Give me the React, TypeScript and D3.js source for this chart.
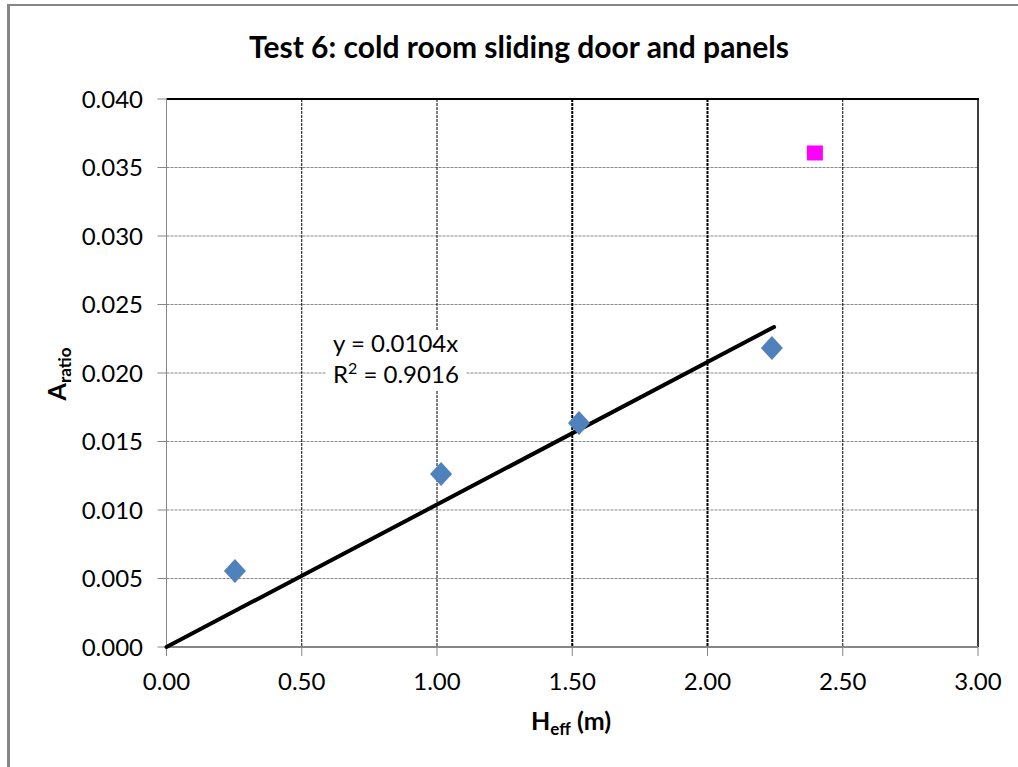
import React from "react";
import * as d3 from "d3";

const xValues = [0.253, 1.015, 1.525, 2.238];
const yValues = [0.00555, 0.01263, 0.01635, 0.02182];
const outlierX = [2.397];
const outlierY = [0.03606];
const slope = 0.0104;
const trendEndX = 2.246;
const xTicks = [0, 0.5, 1.0, 1.5, 2.0, 2.5, 3.0];
const yTicks = [0, 0.005, 0.01, 0.015, 0.02, 0.025, 0.03, 0.035, 0.04];
const boldVertical = [1.5, 2.0];

const W = 1018;
const H = 767;
const L = 166.5, R = 978, T = 99, B = 647;
const FONT = "Lato, 'Open Sans', sans-serif";

export default function App() {
  const x = d3.scaleLinear().domain([0, 3]).range([L, R]);
  const y = d3.scaleLinear().domain([0, 0.04]).range([B, T]);
  const trend = d3.line<number>().x((d) => x(d)).y((d) => y(slope * d));
  const diamond = "M0,-12L11,0L0,12L-11,0Z";

  return (
    <svg width={W} height={H} style={{ position: "absolute", left: 0, top: 0, background: "#fff" }} fontFamily={FONT}>
      <rect x={0} y={0} width={W} height={H} fill="#fff" />
      {/* outer border */}
      <line x1={8.5} y1={4} x2={8.5} y2={H} stroke="#868686" strokeWidth={3} />
      <line x1={7} y1={5} x2={W} y2={5} stroke="#868686" strokeWidth={2} />

      <text x={519} y={58} textAnchor="middle" fontSize={30} fontWeight="bold" fill="#000">
        Test 6: cold room sliding door and panels
      </text>

      {/* horizontal grid */}
      {yTicks.filter((t) => t > 0 && t < 0.04).map((t) => (
        <line key={"h" + t} x1={L} x2={R} y1={y(t)} y2={y(t)} stroke="#8a8a8a" strokeWidth={1} strokeDasharray="3,1" />
      ))}
      {/* vertical grid */}
      {xTicks.filter((t) => t > 0 && t < 3).map((t) => (
        <line key={"v" + t} x1={x(t)} x2={x(t)} y1={T} y2={B} stroke="#000"
          strokeWidth={boldVertical.includes(t) ? 2 : 1} strokeDasharray="3,1" />
      ))}

      {/* plot frame: top & right black */}
      <line x1={L} x2={R + 1} y1={T} y2={T} stroke="#000" strokeWidth={2} />
      <line x1={R} x2={R} y1={T} y2={B} stroke="#000" strokeWidth={1.5} />

      {/* axes */}
      <line x1={L} x2={L} y1={T} y2={B} stroke="#868686" strokeWidth={1} />
      <line x1={L} x2={R} y1={B} y2={B} stroke="#868686" strokeWidth={2} />
      {yTicks.map((t) => (
        <g key={"yt" + t}>
          <line x1={L - 9} x2={L} y1={y(t)} y2={y(t)} stroke="#868686" strokeWidth={1} />
          <text x={143} y={y(t)} dy="0.36em" textAnchor="end" fontSize={24} fill="#000">
            {d3.format(".3f")(t)}
          </text>
        </g>
      ))}
      {xTicks.map((t) => (
        <g key={"xt" + t}>
          <line x1={x(t)} x2={x(t)} y1={B} y2={B + 9} stroke="#868686" strokeWidth={1} />
          <text x={x(t)} y={690} textAnchor="middle" fontSize={24} fill="#000">
            {d3.format(".2f")(t)}
          </text>
        </g>
      ))}

      {/* axis titles */}
      <text x={531} y={730} fontSize={25} fontWeight="bold" fill="#000">
        H<tspan fontSize={17} dy={5}>eff</tspan><tspan dy={-5}> (m)</tspan>
      </text>
      <text transform="translate(66,374) rotate(-90)" textAnchor="middle" fontSize={25} fontWeight="bold" fill="#000">
        A<tspan fontSize={17} dy={5}>ratio</tspan>
      </text>

      {/* trendline */}
      <path d={trend([0, trendEndX]) || ""} fill="none" stroke="#000" strokeWidth={4} strokeLinecap="round" />

      {/* points */}
      {xValues.map((v, i) => (
        <path key={"p" + i} d={diamond} transform={`translate(${x(v)},${y(yValues[i])})`} fill="#4F81BD" />
      ))}
      {outlierX.map((v, i) => (
        <rect key={"o" + i} x={x(v) - 8} y={y(outlierY[i]) - 7.5} width={16} height={15} fill="#FF00FF" />
      ))}

      {/* equation */}
      <rect x={326} y={331} width={140} height={60} fill="#fff" />
      <text x={333} y={352} fontSize={24} fill="#000">y = 0.0104x</text>
      <text x={333} y={383} fontSize={24} fill="#000">
        R<tspan fontSize={16} dy={-9}>2</tspan><tspan dy={9}> = 0.9016</tspan>
      </text>
    </svg>
  );
}
